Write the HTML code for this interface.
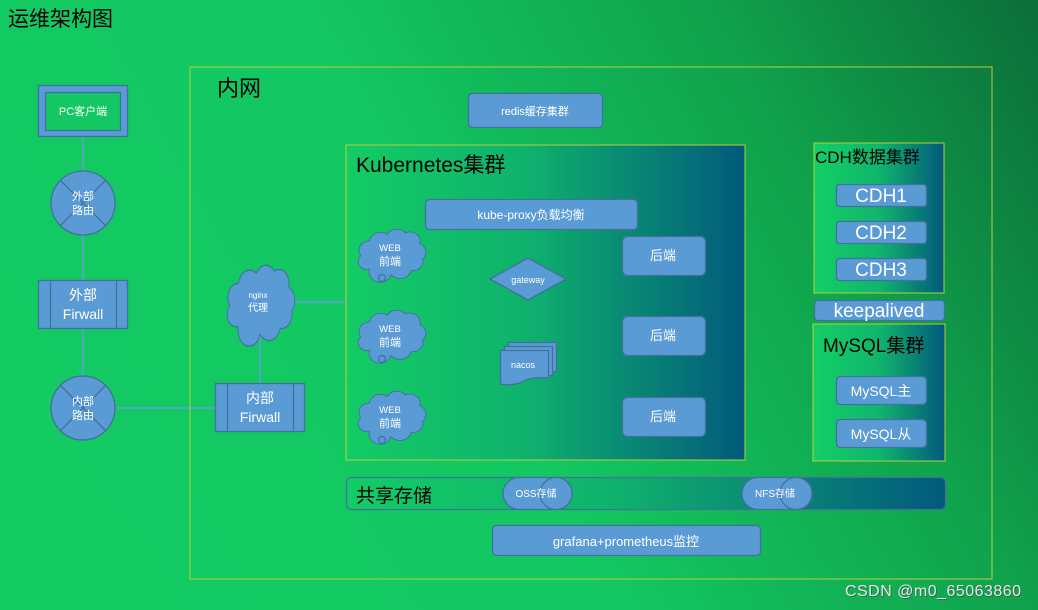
<!DOCTYPE html>
<html><head><meta charset="utf-8"><style>
html,body{margin:0;padding:0;width:1038px;height:610px;overflow:hidden}
body{background:linear-gradient(62deg,#13ca63 0%,#13c862 45%,#10a34c 75%,#0b6e3a 100%)}
svg{display:block}
text{font-family:"Liberation Sans","Noto Sans CJK SC",sans-serif}
</style></head><body>
<svg width="1038" height="610" viewBox="0 0 1038 610" xmlns="http://www.w3.org/2000/svg">
<defs>
<linearGradient id="kg" x1="0" y1="0" x2="1" y2="0">
<stop offset="0" stop-color="#13cc65"/><stop offset="0.45" stop-color="#0fb26d"/><stop offset="1" stop-color="#025a7c"/></linearGradient>
<linearGradient id="cg" x1="0" y1="0" x2="1" y2="0">
<stop offset="0" stop-color="#13cf66"/><stop offset="0.5" stop-color="#10b56c"/><stop offset="1" stop-color="#02597c"/></linearGradient>
<path id="cloud" d="M20,60 A12,12 0 0 1 8,40 A14,14 0 0 1 20,18 A16,16 0 0 1 45,8 A15,15 0 0 1 70,6 A14,14 0 0 1 90,22 A14,14 0 0 1 94,45 A14,14 0 0 1 78,62 A16,16 0 0 1 50,68 A15,15 0 0 1 20,60 Z"/>
</defs>
<g fill="#5b9bd5" stroke="#41719c" stroke-width="1.3">
<g stroke="#6a9be0" stroke-width="1.5" fill="none">
<line x1="83" y1="137" x2="83" y2="171"/><line x1="83" y1="235" x2="83" y2="280"/>
<line x1="83" y1="328" x2="83" y2="376"/><line x1="115" y1="408" x2="215" y2="408"/>
<line x1="260" y1="332" x2="260" y2="383"/><line x1="293" y1="302" x2="346" y2="302"/>
</g>
<rect x="190" y="67" width="802" height="512" fill="none" stroke="#b5cf3a" stroke-width="1"/>
<rect x="38.5" y="85.5" width="89" height="51"/>
<rect x="45.5" y="92.5" width="75" height="38" fill="#13c862"/>
<circle cx="83" cy="203" r="32"/><line x1="60" y1="180" x2="106" y2="226"/><line x1="106" y1="180" x2="60" y2="226"/>
<circle cx="83" cy="408" r="32"/><line x1="60" y1="385" x2="106" y2="431"/><line x1="106" y1="385" x2="60" y2="431"/>
<rect x="38.5" y="280.5" width="89" height="48"/><line x1="50.5" y1="280" x2="50.5" y2="328"/><line x1="116.5" y1="280" x2="116.5" y2="328"/>
<rect x="215.5" y="383.5" width="89" height="48"/><line x1="227.5" y1="383" x2="227.5" y2="432"/><line x1="293.5" y1="383" x2="293.5" y2="432"/>
<use href="#cloud" transform="translate(224,265) scale(0.72,1.02)"/>
<rect x="468.5" y="93.5" width="134" height="34" rx="4"/>
<rect x="346" y="145" width="399" height="315" fill="url(#kg)" stroke="#b5cf3a" stroke-width="1"/>
<rect x="425.5" y="199.5" width="212" height="30" rx="4"/>
<use href="#cloud" transform="translate(355,229) scale(0.72,0.67)"/>
<circle cx="382" cy="278" r="3.5"/>
<use href="#cloud" transform="translate(355,310) scale(0.72,0.67)"/>
<circle cx="382" cy="359" r="3.5"/>
<use href="#cloud" transform="translate(355,391) scale(0.72,0.67)"/>
<circle cx="382" cy="440" r="3.5"/>
<polygon points="528,258 566,279 528,300 490,279"/>
<rect x="508.5" y="342.5" width="48" height="29"/>
<rect x="504.5" y="346.5" width="48" height="29"/>
<path d="M500.5,350.5 H548.5 V378 Q530,376 520,383 Q510,386 500.5,384 Z"/>
<rect x="622.5" y="236.5" width="83" height="39" rx="5"/>
<rect x="622.5" y="316.5" width="83" height="39" rx="5"/>
<rect x="622.5" y="397.5" width="83" height="39" rx="5"/>
<rect x="814" y="143" width="130" height="150" fill="url(#cg)" stroke="#b5cf3a" stroke-width="1"/>
<rect x="836.5" y="184.5" width="90" height="22" rx="3"/>
<rect x="836.5" y="221.5" width="90" height="22" rx="3"/>
<rect x="836.5" y="258.5" width="90" height="22" rx="3"/>
<rect x="814.5" y="300.5" width="130" height="20" rx="3"/>
<rect x="813" y="324" width="132" height="137" fill="url(#cg)" stroke="#b5cf3a" stroke-width="1"/>
<rect x="836.5" y="376.5" width="90" height="28" rx="4"/>
<rect x="836.5" y="419.5" width="90" height="28" rx="4"/>
<rect x="346.5" y="477.5" width="599" height="32" rx="5" fill="url(#kg)"/>
<path d="M519,477.5 H556 A16,16 0 0 1 556,509.5 H519 A16,16 0 0 1 519,477.5 Z"/><ellipse cx="556" cy="493.5" rx="16" ry="16"/>
<path d="M758,477.5 H796 A16,16 0 0 1 796,509.5 H758 A16,16 0 0 1 758,477.5 Z"/><ellipse cx="796" cy="493.5" rx="16" ry="16"/>
<rect x="492.5" y="525.5" width="268" height="30" rx="4"/>
</g>
<g fill="#fff" text-anchor="middle">
<text x="83" y="115" font-size="11">PC客户端</text>
<text x="83" y="200" font-size="11">外部</text><text x="83" y="214" font-size="11">路由</text>
<text x="83" y="405" font-size="11">内部</text><text x="83" y="419" font-size="11">路由</text>
<text x="83" y="300" font-size="14">外部</text><text x="83" y="319" font-size="14">Firwall</text>
<text x="260" y="403" font-size="14">内部</text><text x="260" y="422" font-size="14">Firwall</text>
<text x="258" y="298" font-size="8">nginx</text><text x="258" y="311" font-size="10">代理</text>
<text x="535" y="115" font-size="11">redis缓存集群</text>
<text x="531" y="219" font-size="12">kube-proxy负载均衡</text>
<text x="390" y="251" font-size="9.5">WEB</text><text x="390" y="265" font-size="11">前端</text>
<text x="390" y="332" font-size="9.5">WEB</text><text x="390" y="346" font-size="11">前端</text>
<text x="390" y="413" font-size="9.5">WEB</text><text x="390" y="427" font-size="11">前端</text>
<text x="528" y="283" font-size="9">gateway</text>
<text x="523" y="368" font-size="9">nacos</text>
<text x="663" y="260" font-size="13">后端</text><text x="663" y="340" font-size="13">后端</text><text x="663" y="421" font-size="13">后端</text>
<text x="881" y="202" font-size="19">CDH1</text><text x="881" y="239" font-size="19">CDH2</text><text x="881" y="276" font-size="19">CDH3</text>
<text x="879" y="317" font-size="19">keepalived</text>
<text x="881" y="396" font-size="14">MySQL主</text><text x="881" y="439" font-size="14">MySQL从</text>
<text x="536" y="497" font-size="10">OSS存储</text><text x="775" y="497" font-size="10">NFS存储</text>
<text x="626" y="546" font-size="13">grafana+prometheus监控</text>
</g>
<g fill="#000">
<text x="8" y="26" font-size="21">运维架构图</text>
<text x="217" y="96" font-size="22">内网</text>
<text x="356" y="172" font-size="21">Kubernetes集群</text>
<text x="815" y="163" font-size="17">CDH数据集群</text>
<text x="823" y="352" font-size="19">MySQL集群</text>
<text x="356" y="502" font-size="19">共享存储</text>
</g>
<text x="846" y="597" font-size="16" fill="#444" opacity="0.6" textLength="176">CSDN @m0_65063860</text>
<text x="845" y="596" font-size="16" fill="#e6e6e6" textLength="176">CSDN @m0_65063860</text>
</svg>
</body></html>
